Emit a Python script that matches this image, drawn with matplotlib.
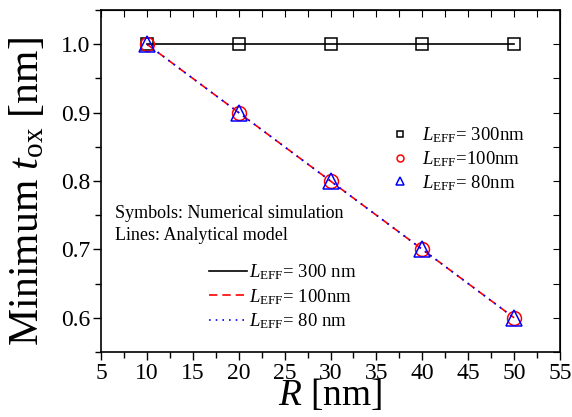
import numpy as np
import matplotlib
matplotlib.use("Agg")
import matplotlib.pyplot as plt
from matplotlib.ticker import MultipleLocator

plt.rcParams['font.family'] = 'Liberation Serif'
plt.rcParams['mathtext.fontset'] = 'custom'
plt.rcParams['mathtext.rm'] = 'Liberation Serif'
plt.rcParams['mathtext.it'] = 'Liberation Serif:italic'

# Data
R = [10, 20, 30, 40, 50]
tox_300 = [1.0, 1.0, 1.0, 1.0, 1.0]
tox_100 = [1.0, 0.9, 0.8, 0.7, 0.6]
tox_80 = [1.0, 0.9, 0.8, 0.7, 0.6]

sym_labels = [r'$L_{\rm EFF}$= 300nm', r'$L_{\rm EFF}$=100nm', r'$L_{\rm EFF}$= 80nm']
line_labels = [r'$L_{\rm EFF}$= 300 nm', r'$L_{\rm EFF}$= 100nm', r'$L_{\rm EFF}$= 80 nm']

fig = plt.figure(figsize=(5.72, 4.17), dpi=100)
ax = fig.add_axes([101/572, 65/417, 459/572, 342/417])

# analytical model lines
l1, = ax.plot(R, tox_300, color='black', lw=1.2, ls='-')
l2, = ax.plot(R, tox_100, color='red', lw=1.2, ls=(0, (5, 3)))
l3, = ax.plot(R, tox_80, color='blue', lw=1.2, ls=(0, (1, 3)))

# numerical simulation symbols
s1, = ax.plot(R, tox_300, ls='none', marker='s', ms=9, mfc='none', mec='black', mew=1.1)
s2, = ax.plot(R, tox_100, ls='none', marker='o', ms=10, mfc='none', mec='red', mew=1.1)
s3, = ax.plot(R, tox_80, ls='none', marker='^', ms=11, mfc='none', mec='blue', mew=1.1)

ax.set_xlim(5, 55)
ax.set_ylim(0.55, 1.05)
ax.xaxis.set_major_locator(MultipleLocator(5))
ax.xaxis.set_minor_locator(MultipleLocator(2.5))
ax.yaxis.set_major_locator(MultipleLocator(0.1))
ax.yaxis.set_minor_locator(MultipleLocator(0.05))
ax.yaxis.set_major_formatter(plt.FormatStrFormatter('%.1f'))

ax.tick_params(which='both', direction='out', top=False, right=False,
               labelsize=17, width=1, pad=2)
ax.tick_params(which='major', length=6)
ax.tick_params(which='minor', length=4)
# inward ticks on top and right
ax2 = ax.secondary_xaxis('top')
ax2.xaxis.set_major_locator(MultipleLocator(2.5))
ax2.tick_params(direction='in', length=5, labeltop=False)
ax3 = ax.secondary_yaxis('right')
ax3.yaxis.set_major_locator(MultipleLocator(0.05))
ax3.tick_params(direction='in', length=5, labelright=False)

for sp in ax.spines.values():
    sp.set_linewidth(1.2)

ax.set_xlabel(r'$R$ [nm]', fontsize=27, labelpad=-5)
ax.set_ylabel(r'Minimum $t_{\rm ox}$ [nm]', fontsize=30)
ax.yaxis.set_label_coords(-0.118, 0.47)

leg1 = ax.legend([s1, s2, s3], sym_labels, loc='upper left',
                 bbox_to_anchor=(0.61, 0.69), frameon=False, fontsize=13.5,
                 markerscale=0.5, handlelength=1.0, handletextpad=0.7,
                 labelspacing=0.22, borderpad=0)
ax.add_artist(leg1)
ax.legend([l1, l2, l3], line_labels, loc='upper left',
          bbox_to_anchor=(0.215, 0.29), frameon=False, fontsize=13.5,
          handlelength=2.0, handletextpad=0.15, labelspacing=0.27, borderpad=0)

ax.text(0.03, 0.405, 'Symbols: Numerical simulation', transform=ax.transAxes,
        fontsize=13, va='center')
ax.text(0.03, 0.34, 'Lines: Analytical model', transform=ax.transAxes,
        fontsize=13, va='center')

fig.savefig('out.png', dpi=100)
